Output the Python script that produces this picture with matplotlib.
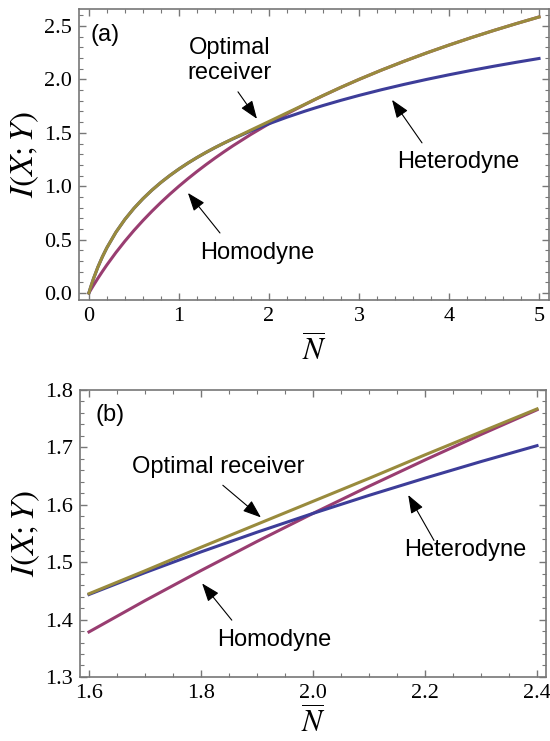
import numpy as np
import matplotlib
matplotlib.use('Agg')
import matplotlib.pyplot as plt
from matplotlib.ticker import MultipleLocator

plt.rcParams['mathtext.fontset'] = 'stix'

# values
# panel (a): N from 0 to 5
n_a = [0, 0.02, 0.05, 0.1, 0.15, 0.2, 0.3, 0.4, 0.5, 0.6, 0.7, 0.8, 0.9, 1.0,
       1.1, 1.2, 1.3, 1.4, 1.5, 1.6, 1.8, 2.0, 2.2, 2.4, 2.5, 2.6, 2.8, 3.0,
       3.25, 3.5, 3.75, 4.0, 4.25, 4.5, 4.75, 5.0]
het_a = [0, 0.0555, 0.1315, 0.2427, 0.3390, 0.4240, 0.5687, 0.6893, 0.7925,
         0.8827, 0.9630, 1.0352, 1.1008, 1.1610, 1.2165, 1.2680, 1.3161,
         1.3612, 1.4037, 1.4437, 1.5179, 1.5850, 1.6464, 1.7030, 1.7297,
         1.7555, 1.8044, 1.8502, 1.9037, 1.9534, 2.0, 2.0437, 2.0850, 2.1240,
         2.1610, 2.1962]
hom_a = [0, 0.0286, 0.0704, 0.1375, 0.2016, 0.2630, 0.3785, 0.4854, 0.5850,
         0.6781, 0.7655, 0.8480, 0.9260, 1.0, 1.0704, 1.1375, 1.2016, 1.2630,
         1.3219, 1.3785, 1.4854, 1.5850, 1.6781, 1.7655, 1.8074, 1.8480,
         1.9260, 2.0, 2.0875, 2.1699, 2.2479, 2.3219, 2.3923, 2.4594, 2.5236,
         2.5850]
opt_a = [0, 0.0555, 0.1315, 0.2427, 0.3390, 0.4240, 0.5687, 0.6893, 0.7925,
         0.8827, 0.9630, 1.0352, 1.1008, 1.1610, 1.2166, 1.2682, 1.3164,
         1.3618, 1.4042, 1.445, 1.526, 1.606, 1.687, 1.767, 1.8085, 1.8488,
         1.9264, 2.0003, 2.0876, 2.1700, 2.2480, 2.3220, 2.3923, 2.4594,
         2.5236, 2.5850]

# panel (b): zoom 1.6 .. 2.4
n_b = [1.6, 1.7, 1.8, 1.9, 2.0, 2.1, 2.2, 2.3, 2.4]
het_b = [1.4437, 1.4818, 1.5179, 1.5522, 1.5850, 1.6164, 1.6464, 1.6753, 1.7030]
hom_b = [1.3785, 1.4330, 1.4854, 1.5361, 1.5850, 1.6323, 1.6781, 1.7225, 1.7655]
opt_b = [1.445, 1.485, 1.526, 1.566, 1.606, 1.646, 1.687, 1.727, 1.767]

c_het = (0.24, 0.24, 0.6)
c_hom = (0.6, 0.24, 0.442)
c_opt = (0.6, 0.547, 0.24)
lw = 2.2

fig = plt.figure(figsize=(5.5, 7.41), dpi=100)
ax1 = fig.add_axes([0.1436, 0.5951, 0.8545, 0.3928])
ax2 = fig.add_axes([0.1455, 0.0864, 0.8472, 0.3873])

sans = 'Liberation Sans'
serif = 'Liberation Serif'
arrow = dict(arrowstyle='-|>,head_length=0.7,head_width=0.26', color='k',
             lw=0.8, mutation_scale=16, shrinkA=0, shrinkB=0)


def style(ax, xmaj, xmin, ymaj, ymin, xpad):
    ax.xaxis.set_major_locator(MultipleLocator(xmaj))
    ax.xaxis.set_minor_locator(MultipleLocator(xmin))
    ax.yaxis.set_major_locator(MultipleLocator(ymaj))
    ax.yaxis.set_minor_locator(MultipleLocator(ymin))
    ax.tick_params(which='both', direction='in', top=True, right=True,
                   color='#777777', labelsize=16, pad=5)
    ax.tick_params(which='major', length=5, width=1)
    ax.tick_params(which='minor', length=3, width=0.8)
    for s in ax.spines.values():
        s.set_color('#777777')
        s.set_linewidth(1.2)
    ax.set_xlabel(r'$\overline{N}$', fontsize=22, labelpad=xpad)
    ax.set_ylabel(r'$I(X;Y)$', fontsize=24, labelpad=2)


# (a)
ax1.plot(n_a, hom_a, color=c_hom, lw=lw)
ax1.plot(n_a, het_a, color=c_het, lw=lw)
ax1.plot(n_a, opt_a, color=c_opt, lw=lw)
ax1.set_xlim(-0.11, 5.11)
ax1.set_ylim(-0.066, 2.66)
style(ax1, 1, 0.2, 0.5, 0.1, 5)
ax1.set_xticks([0, 1, 2, 3, 4, 5])
ax1.set_xticklabels(['0', '1', '2', '3', '4', '5'], family=serif)
ax1.set_yticks([0, 0.5, 1.0, 1.5, 2.0, 2.5])
ax1.set_yticklabels(['0.0', '0.5', '1.0', '1.5', '2.0', '2.5'], family=serif)
ax1.text(0.178, 2.42, '(a)', fontsize=17, family=sans, ha='center', va='center')
ax1.text(1.567, 2.18, 'Optimal\nreceiver', fontsize=17, family=sans,
         ha='center', va='center', linespacing=1.2)
ax1.annotate('', xy=(1.867, 1.631), xytext=(1.656, 1.884), arrowprops=arrow)
ax1.text(4.1, 1.228, 'Heterodyne', fontsize=17, family=sans, ha='center', va='center')
ax1.annotate('', xy=(3.367, 1.809), xytext=(3.70, 1.406), arrowprops=arrow)
ax1.text(1.867, 0.375, 'Homodyne', fontsize=17, family=sans, ha='center', va='center')
ax1.annotate('', xy=(1.1, 0.937), xytext=(1.456, 0.562), arrowprops=arrow)

# (b)
ax2.plot(n_b, hom_b, color=c_hom, lw=lw)
ax2.plot(n_b, het_b, color=c_het, lw=lw)
ax2.plot(n_b, opt_b, color=c_opt, lw=lw)
ax2.set_xlim(1.584, 2.416)
ax2.set_ylim(1.3, 1.8)
style(ax2, 0.2, 0.05, 0.1, 0.02, 2)
ax2.set_xticks([1.6, 1.8, 2.0, 2.2, 2.4])
ax2.set_xticklabels(['1.6', '1.8', '2.0', '2.2', '2.4'], family=serif)
ax2.set_yticks([1.3, 1.4, 1.5, 1.6, 1.7, 1.8])
ax2.set_yticklabels(['1.3', '1.4', '1.5', '1.6', '1.7', '1.8'], family=serif)
ax2.text(1.6375, 1.7557, '(b)', fontsize=17, family=sans, ha='center', va='center')
ax2.text(1.830, 1.665, 'Optimal receiver', fontsize=17, family=sans,
         ha='center', va='center')
ax2.annotate('', xy=(1.907, 1.578), xytext=(1.839, 1.634), arrowprops=arrow)
ax2.text(2.271, 1.521, 'Heterodyne', fontsize=17, family=sans, ha='center', va='center')
ax2.annotate('', xy=(2.170, 1.617), xytext=(2.216, 1.538), arrowprops=arrow)
ax2.text(1.930, 1.364, 'Homodyne', fontsize=17, family=sans, ha='center', va='center')
ax2.annotate('', xy=(1.802, 1.463), xytext=(1.855, 1.399), arrowprops=arrow)

fig.savefig('out.png', dpi=100)
